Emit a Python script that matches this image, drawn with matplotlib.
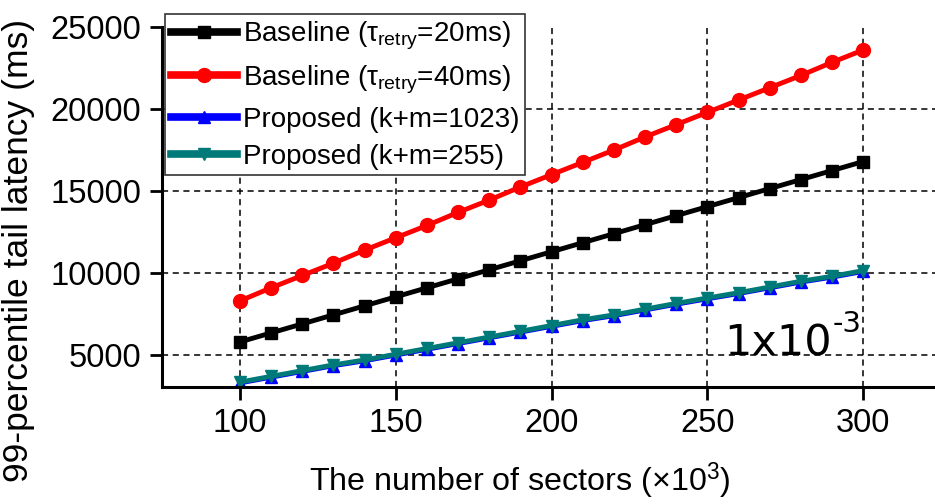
import numpy as np
import matplotlib.pyplot as plt

plt.rcParams['font.family'] = ['Liberation Sans', 'DejaVu Sans']
plt.rcParams['mathtext.fontset'] = 'custom'
plt.rcParams['mathtext.rm'] = 'Liberation Sans'
plt.rcParams['mathtext.it'] = 'Liberation Sans'

# sectors (x10^3)
sectors = [100, 110, 120, 130, 140, 150, 160, 170, 180, 190, 200,
           210, 220, 230, 240, 250, 260, 270, 280, 290, 300]
# 99-percentile tail latency (ms)
base_20 = [5800, 6350, 6900, 7450, 8000, 8550, 9100, 9650, 10200, 10750, 11300,
           11850, 12400, 12950, 13500, 14050, 14600, 15150, 15700, 16250, 16800]
base_40 = [8300, 9100, 9850, 10600, 11400, 12150, 12900, 13700, 14450, 15250, 16000,
           16750, 17500, 18300, 19050, 19800, 20550, 21300, 22050, 22850, 23600]
prop_1023 = [3300, 3650, 4000, 4350, 4650, 5000, 5350, 5700, 6050, 6400, 6750,
             7100, 7400, 7750, 8100, 8430, 8750, 9100, 9450, 9750, 10100]
prop_255 = [3350, 3700, 4050, 4400, 4700, 5050, 5400, 5750, 6100, 6450, 6800,
            7150, 7450, 7800, 8150, 8480, 8800, 9150, 9500, 9800, 10150]

labels = [r'Baseline ($\tau_{\mathrm{retry}}$=20ms)',
          r'Baseline ($\tau_{\mathrm{retry}}$=40ms)',
          'Proposed (k+m=1023)',
          'Proposed (k+m=255)']

fig = plt.figure(figsize=(9.35, 5.04), dpi=100)
ax = fig.add_axes([0.1733, 0.2321, 0.8267, 0.7143])

ax.plot(sectors, base_20, color='black', marker='s', ms=9, lw=3.5, label=labels[0])
ax.plot(sectors, base_40, color='#ff0000', marker='o', ms=10, lw=3.5, label=labels[1])
ax.plot(sectors, prop_1023, color='#0000ff', marker='^', ms=8, lw=3.5, label=labels[2])
ax.plot(sectors, prop_255, color='#007a78', marker='v', ms=9, lw=3.5, label=labels[3])

ax.set_xlim(75, 323)
ax.set_ylim(3050, 25000)
ax.set_xticks([100, 150, 200, 250, 300])
ax.set_yticks([5000, 10000, 15000, 20000, 25000])
ax.grid(True, color='black', linestyle=(0, (4, 3)), linewidth=1.1)
ax.yaxis.get_gridlines()[-1].set_visible(False)
ax.set_axisbelow(True)

for s in ['top', 'right']:
    ax.spines[s].set_visible(False)
for s in ['left', 'bottom']:
    ax.spines[s].set_linewidth(2.2)
ax.tick_params(direction='out', length=9, width=2, labelsize=23.5, pad=6)

ax.set_xlabel(r'The number of sectors ($\times$10$^3$)', fontsize=23.2)
ax.xaxis.set_label_coords(0.463, -0.205)
ax.set_ylabel('99-percentile tail latency (ms)', fontsize=25.5)
ax.yaxis.set_label_coords(-0.164, 0.38)

t1 = ax.text(255.5, 5000, '1x10', fontsize=31, family='DejaVu Sans',
             ha='left', va='baseline')
ax.annotate('-3', xy=(1, 0.62), xycoords=t1, fontsize=21, family='DejaVu Sans',
            ha='left', va='bottom')

leg = ax.legend(loc='upper left', bbox_to_anchor=(0.004, 1.035), fontsize=20,
                numpoints=1, handlelength=2.4, handletextpad=0.2,
                labelspacing=0.4, borderpad=0.2, borderaxespad=0.0,
                fancybox=False, framealpha=1, edgecolor='#333333')
leg.get_frame().set_linewidth(1.2)
for h in leg.get_lines():
    h.set_linewidth(5.5)

fig.savefig('out.png', dpi=100)
